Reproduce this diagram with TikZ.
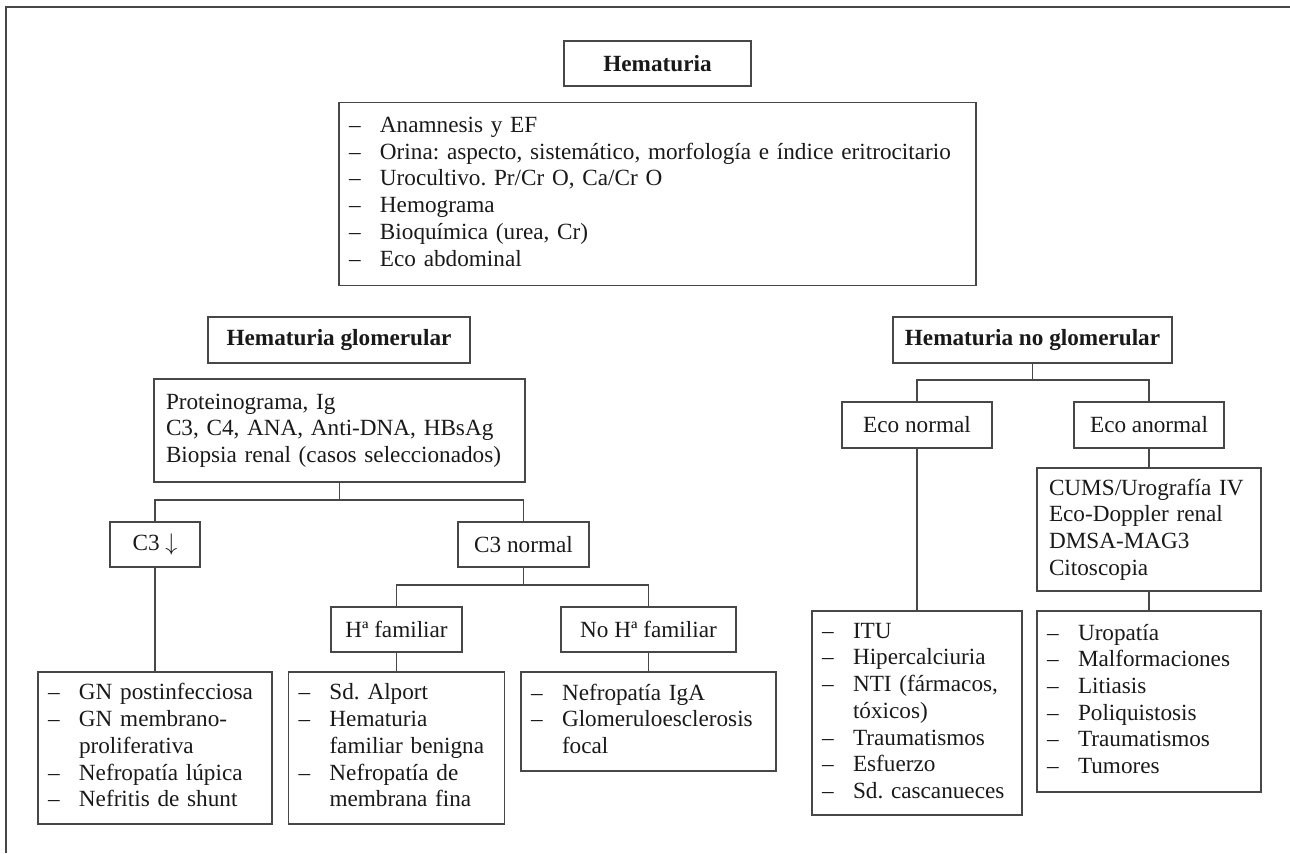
\documentclass[tikz,border=0pt]{standalone}
\usepackage{fontspec}
\setmainfont{Liberation Serif}
\usepackage{array}
\frenchspacing
\newcommand{\fsz}{\fontsize{11.6}{13.35}\selectfont\frenchspacing}
\newcommand{\lst}[1]{\begin{tabular}{@{}p{15.5pt}@{}l@{}}#1\end{tabular}}
\tikzset{
  bx/.style={draw=black!72, line width=0.65pt, text=black!90, inner sep=0pt, align=center, font=\fsz},
  hd/.style={bx, font=\fsz\bfseries},
  lbx/.style={bx, align=left, inner xsep=5pt},
  tbx/.style={bx, align=left, inner xsep=6pt},
  ln/.style={draw=black!72, line width=0.65pt}
}
\begin{document}
\begin{tikzpicture}[x=0.5pt,y=-0.5pt]
\useasboundingbox (0,0) rectangle (1290,853);
\draw[ln] (1290,7) -- (6,7) -- (6,853);

\node[hd, minimum width=93.5pt, minimum height=22.5pt] (hem) at (657.5,63.5) {Hematuria};
\node[lbx, minimum width=318.5pt, minimum height=91.5pt, text width=308.5pt] (exam) at (657.5,194) {\lst{
– & Anamnesis y EF\\
– & Orina: aspecto, sistemático, morfología e índice eritrocitario\\
– & Urocultivo. Pr/Cr O, Ca/Cr O\\
– & Hemograma\\
– & Bioquímica (urea, Cr)\\
– & Eco abdominal}};

\node[hd, minimum width=131pt, minimum height=23pt] (hg) at (339,340) {Hematuria glomerular};
\node[hd, minimum width=139.5pt, minimum height=23pt] (hng) at (1032.5,340) {Hematuria no glomerular};

\node[tbx, minimum width=185.5pt, minimum height=51.5pt, text width=173.5pt] (prot) at (339.5,430.5) {Proteinograma, Ig\\ C3, C4, ANA, Anti-DNA, HBsAg\\ Biopsia renal (casos seleccionados)};

\node[bx, minimum width=45pt, minimum height=22.5pt] (c3d) at (155,544.5) {C3 $\downarrow$};
\node[bx, minimum width=65.5pt, minimum height=22.5pt] (c3n) at (523.5,544.5) {C3 normal};
\node[bx, minimum width=65.5pt, minimum height=22.5pt] (haf) at (396.5,629.5) {Hª familiar};
\node[bx, minimum width=87.5pt, minimum height=22.5pt] (nhaf) at (648.5,629.5) {No Hª familiar};

\node[lbx, minimum width=117pt, minimum height=76pt, text width=107pt] (gn) at (155,748) {\lst{
– & GN postinfecciosa\\
– & GN membrano-\\
  & proliferativa\\
– & Nefropatía lúpica\\
– & Nefritis de shunt}};
\node[lbx, minimum width=108pt, minimum height=76pt, text width=98pt] (alp) at (396.5,748) {\lst{
– & Sd. Alport\\
– & Hematuria\\
  & familiar benigna\\
– & Nefropatía de\\
  & membrana fina}};
\node[lbx, minimum width=127.5pt, minimum height=49.5pt, text width=117.5pt] (iga) at (648.5,721.5) {\lst{
– & Nefropatía IgA\\
– & Glomeruloesclerosis\\
  & focal}};

\node[bx, minimum width=75pt, minimum height=23pt] (econ) at (917,425) {Eco normal};
\node[bx, minimum width=75pt, minimum height=23pt] (ecoa) at (1149,425) {Eco anormal};
\node[tbx, minimum width=112pt, minimum height=61.5pt, text width=100pt] (cums) at (1149,529.5) {CUMS/Urografía IV\\ Eco-Doppler renal\\ DMSA-MAG3\\ Citoscopia};
\node[lbx, minimum width=105pt, minimum height=102pt, text width=95pt] (itu) at (917,713) {\lst{
– & ITU\\
– & Hipercalciuria\\
– & NTI (fármacos,\\
  & tóxicos)\\
– & Traumatismos\\
– & Esfuerzo\\
– & Sd. cascanueces}};
\node[lbx, minimum width=112pt, minimum height=90.5pt, text width=102pt] (uro) at (1149,701.5) {\lst{
– & Uropatía\\
– & Malformaciones\\
– & Litiasis\\
– & Poliquistosis\\
– & Traumatismos\\
– & Tumores}};

\coordinate (j1) at (1032.5,380);
\coordinate (j2) at (339.5,500);
\coordinate (j3) at (523.5,585);
\draw[ln] (hng.south) -- (j1);
\draw[ln] (econ.north) |- (j1) -| (ecoa.north);
\draw[ln] (econ.south) -- (itu.north);
\draw[ln] (ecoa.south) -- (cums.north);
\draw[ln] (cums.south) -- (uro.north);
\draw[ln] (prot.south) -- (j2);
\draw[ln] (c3d.north) |- (j2) -| (c3n.north);
\draw[ln] (c3d.south) -- (gn.north);
\draw[ln] (c3n.south) -- (j3);
\draw[ln] (haf.north) |- (j3) -| (nhaf.north);
\draw[ln] (haf.south) -- (alp.north);
\draw[ln] (nhaf.south) -- (iga.north);
\end{tikzpicture}
\end{document}
